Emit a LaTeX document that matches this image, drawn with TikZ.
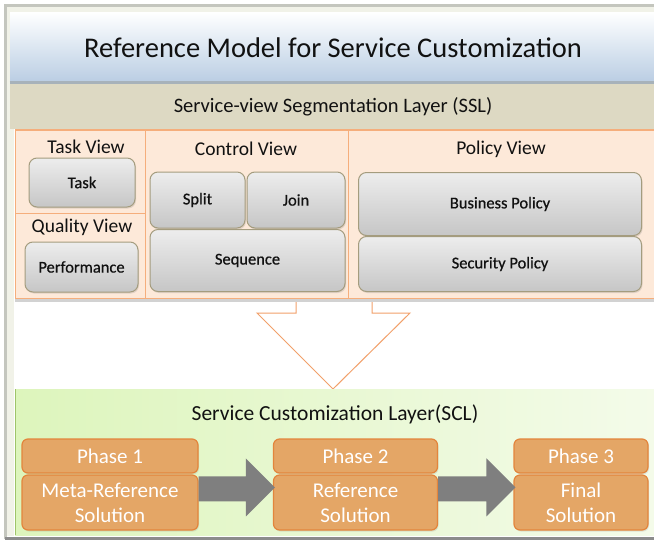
\documentclass[tikz,border=0pt]{standalone}
\usepackage{fontspec}
\setmainfont{Carlito}
\newfontfamily\btnfont[FakeBold=0.6]{Carlito}
\usetikzlibrary{shadows,calc}

\definecolor{txt}{HTML}{111111}
\definecolor{framebg}{HTML}{F1F2E8}
\definecolor{frameline}{HTML}{C4C6BE}
\definecolor{titleblue}{HTML}{B9CDE3}
\definecolor{titleline}{HTML}{A7B2BA}
\definecolor{sslfill}{HTML}{DDD9C3}
\definecolor{panelfill}{HTML}{FDE9D9}
\definecolor{panelline}{HTML}{F5AE7C}
\definecolor{btntop}{HTML}{EDEDED}
\definecolor{btnbot}{HTML}{C6C6C6}
\definecolor{btnline}{HTML}{A49C7E}
\definecolor{downline}{HTML}{F2A06A}
\definecolor{sclleft}{HTML}{DDF5BC}
\definecolor{sclright}{HTML}{F4FBEA}
\definecolor{sclline}{HTML}{9FC46A}
\definecolor{phasefill}{HTML}{E4A666}
\definecolor{phaseline}{HTML}{E3853C}
\definecolor{arrowgray}{HTML}{7F7F7F}

% block arrow between two phase bodies: shaft from #1, tip on #2
\newcommand\phasearrow[2]{%
  \fill[arrowgray]
    ($(#1.north east)+(0,2)$) -- ($(#2.north west)+(-27,2)$)
    -- ($(#2.north west)+(-27,-16)$) -- ($(#2.north west)+(2,13)$)
    -- ($(#2.north west)+(-27,42)$) -- ($(#2.north west)+(-27,27)$)
    -- ($(#1.north east)+(0,27)$) -- cycle;}

\begin{document}
\begin{tikzpicture}[x=1pt,y=-1pt,
  viewlabel/.style={font=\fontsize{19.5}{22}\selectfont, text=txt},
  button/.style={draw=btnline, line width=1pt, rounded corners=8pt,
    top color=btntop, bottom color=btnbot, inner sep=0pt,
    drop shadow={opacity=0.22, shadow xshift=1pt, shadow yshift=-1.5pt},
    font=\btnfont\fontsize{16.5}{18}\selectfont, text=txt},
  panel/.style={draw=panelline, line width=1pt, fill=panelfill},
  phasebox/.style={draw=phaseline, line width=1.2pt, fill=phasefill,
    rounded corners=6pt, text=white, align=center, inner sep=0pt,
    font=\fontsize{21}{25}\selectfont,
    drop shadow={opacity=0.18, shadow xshift=1pt, shadow yshift=-1.5pt}},
]
\useasboundingbox (0,0) rectangle (654,543);
\clip (0,0) rectangle (654,543);
\fill[white] (0,0) rectangle (654,543);

% outer frame
\draw[frameline, line width=2.5pt, fill=white] (5.5,5.5) rectangle (670,538);
\fill[framebg] (7,7) rectangle (670,12);
\fill[framebg] (7,7) rectangle (14,536);
\draw[gray!90, line width=3pt] (5,538.5) -- (660,538.5);

% title bar
\node[minimum width=646pt, minimum height=70pt, inner sep=0pt,
  top color=white, bottom color=titleblue,
  font=\fontsize{28.5}{31}\selectfont, text=txt] (title) at (333,47.5)
  {Reference Model for Service Customization};
\draw[titleline, line width=2.5pt] (title.south west) -- (title.south east);

% segmentation layer band
\node[minimum width=646pt, minimum height=45pt, inner sep=0pt, fill=sslfill,
  font=\fontsize{20.5}{22}\selectfont, text=txt] (ssl) at (333,107)
  {Service-view Segmentation Layer (SSL)};

% hollow down arrow from SSL to SCL
\draw[downline, line width=1pt, fill=white]
  (296,296) -- (296,313) -- (257,313) -- (333,389) -- (410,313)
  -- (372,313) -- (372,296);

% view panels
\fill[gray!35] (15,298) rectangle (660,302);
\node[panel, minimum width=130pt, minimum height=83pt, inner sep=0pt] (taskp) at (80,171.5) {};
\node[panel, minimum width=130pt, minimum height=85pt, inner sep=0pt] (qualp) at (80,255.5) {};
\node[panel, minimum width=203pt, minimum height=168pt, inner sep=0pt] (ctrlp) at (246.5,214) {};
\node[panel, minimum width=312pt, minimum height=168pt, inner sep=0pt] (polp) at (504,214) {};

\node[viewlabel] (taskl) at (86,147) {Task View};
\node[viewlabel] (quall) at (82,227.5) {Quality View};
\node[viewlabel] (ctrll) at (246,149) {Control View};
\node[viewlabel] (poll) at (501,149) {Policy View};

\node[button, minimum width=106pt, minimum height=49pt] (task) at (82,182.5) {Task};
\node[button, minimum width=113pt, minimum height=50pt] (perf) at (81.5,267) {Performance};
\node[button, minimum width=95pt, minimum height=56pt] (split) at (197.5,200) {Split};
\node[button, minimum width=98pt, minimum height=56pt] (join) at (296,200) {Join};
\node[button, minimum width=195pt, minimum height=62pt] (seq) at (247.5,260.5) {Sequence};
\node[button, minimum width=283pt, minimum height=63pt] (bpol) at (500,204) {Business Policy};
\node[button, minimum width=283pt, minimum height=55pt] (spol) at (500,264) {Security Policy};

% customization layer band
\shade[left color=sclleft, right color=sclright] (15,389) rectangle (660,535);
\draw[sclline, line width=1.2pt] (15.5,389) -- (15.5,535);
\node[font=\fontsize{21.5}{23}\selectfont, text=txt] (scl) at (335,414)
  {Service Customization Layer(SCL)};

% phases
\node[phasebox, minimum width=176pt, minimum height=34pt] (p1h) at (110,456) {Phase 1};
\node[phasebox, minimum width=176pt, minimum height=55pt] (p1b) at (110,502.5) {Meta-Reference\\Solution};
\node[phasebox, minimum width=164pt, minimum height=34pt] (p2h) at (355.5,456) {Phase 2};
\node[phasebox, minimum width=164pt, minimum height=55pt] (p2b) at (355.5,502.5) {Reference\\Solution};
\node[phasebox, minimum width=134pt, minimum height=34pt] (p3h) at (581,456) {Phase 3};
\node[phasebox, minimum width=134pt, minimum height=55pt] (p3b) at (581,502.5) {Final\\Solution};

\phasearrow{p1b}{p2b}
\phasearrow{p2b}{p3b}
\end{tikzpicture}
\end{document}
